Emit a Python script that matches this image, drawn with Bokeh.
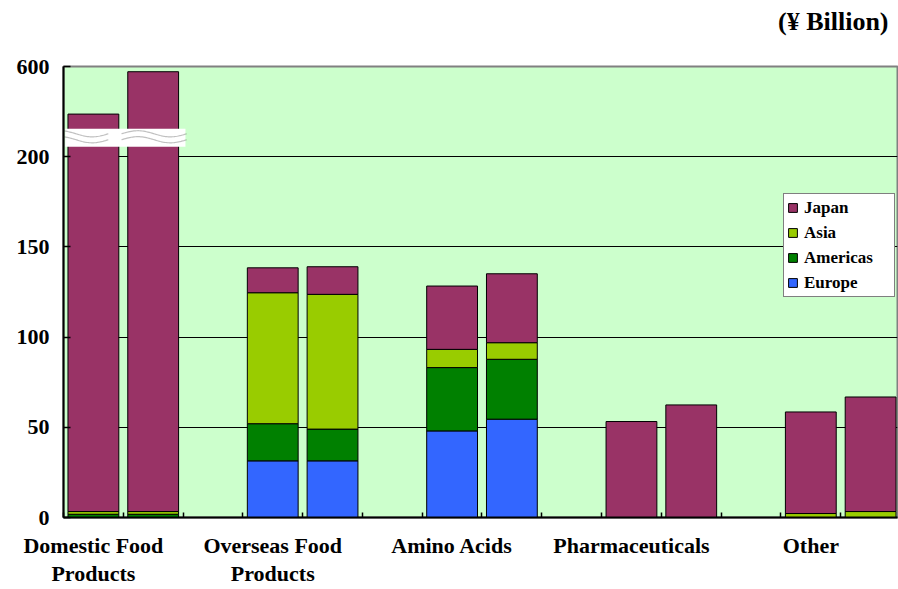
import numpy as np
from bokeh.plotting import figure
from bokeh.models import (Range1d, FixedTicker, LinearAxis, Legend, LegendItem,
                          PolyAnnotation, BoxAnnotation, Title, ColumnDataSource)
from bokeh.embed import file_html
from bokeh.resources import INLINE

# Segment sales by region, two consecutive years per segment (¥ billion)
categories = ["Domestic Food\nProducts", "Overseas Food\nProducts", "Amino Acids",
              "Pharmaceuticals", "Other"]
europe   = [0.0, 0.0, 31.4, 31.4, 48.0, 54.5, 0.0, 0.0, 0.0, 0.0]
americas = [1.8, 1.8, 20.6, 17.6, 35.1, 33.2, 0.0, 0.0, 0.0, 0.0]
asia     = [1.5, 1.5, 72.6, 74.7, 10.1, 9.2, 0.0, 0.0, 2.2, 3.3]
japan    = [385.7, 573.5, 13.8, 15.3, 35.1, 38.2, 53.2, 62.4, 56.3, 63.5]
y_ticks  = [0, 50, 100, 150, 200, 600]

series = [("Europe", europe, "#3366FF"),
          ("Americas", americas, "#008000"),
          ("Asia", asia, "#99CC00"),
          ("Japan", japan, "#993366")]

# broken value axis: linear up to 200, compressed above
BREAK = 200.0
COMPRESS = 0.125


def to_axis(v):
    a = np.asarray(v, dtype=float)
    return np.where(a <= BREAK, a, BREAK + (a - BREAK) * COMPRESS)


FONT = "Liberation Serif"
n_groups = len(categories)
# each group occupies three slots: two bars and an empty slot
slot_x = [3 * (i // 2) + (i % 2) + 0.5 for i in range(2 * n_groups)]

p = figure(width=898, height=589, output_backend="svg", toolbar_location=None,
           x_range=Range1d(0, 13.95), y_range=Range1d(0, float(to_axis(600))),
           min_border_left=63, min_border_right=1, min_border_top=66,
           min_border_bottom=72)
p.background_fill_color = "#CCFFCC"
p.border_fill_color = "white"
p.outline_line_color = "#808080"
p.outline_line_width = 2
p.xgrid.visible = False
p.ygrid.ticker = FixedTicker(ticks=[50, 100, 150, 200])
p.ygrid.grid_line_color = "black"
p.ygrid.grid_line_width = 1

renderers = {}
bottom = np.zeros(len(slot_x))
for name, vals, color in series:
    vals = np.asarray(vals, dtype=float)
    top = bottom + vals
    keep = vals > 0
    src = ColumnDataSource(dict(
        x=np.asarray(slot_x)[keep],
        bottom=to_axis(bottom[keep]),
        top=to_axis(top[keep]),
    ))
    renderers[name] = p.vbar(x="x", width=0.85, bottom="bottom", top="top",
                             source=src, fill_color=color, line_color="black",
                             line_width=1)
    bottom = top

# y axis
yt = [float(t) for t in to_axis(y_ticks)]
p.yaxis.ticker = FixedTicker(ticks=yt)
p.yaxis.major_label_overrides = {yt[i]: str(y_ticks[i]) for i in range(len(yt))}
p.yaxis.axis_line_color = "black"
p.yaxis.axis_line_width = 2
p.yaxis.major_tick_in = 7
p.yaxis.major_tick_out = 0
p.yaxis.minor_tick_line_color = None
p.yaxis.major_tick_line_width = 1.5
p.yaxis.major_label_standoff = 14
p.yaxis.major_label_text_font = FONT
p.yaxis.major_label_text_font_style = "bold"
p.yaxis.major_label_text_font_size = "22px"
p.yaxis.major_label_text_color = "black"

# x axis: category names under the first bar of each group,
# minor ticks mark the slot boundaries
label_pos = [3 * g + 0.5 for g in range(n_groups)]
p.xaxis.ticker = FixedTicker(ticks=label_pos, minor_ticks=list(range(0, 14)))
p.xaxis.major_label_overrides = {label_pos[g]: categories[g] for g in range(n_groups)}
p.xaxis.axis_line_color = "black"
p.xaxis.axis_line_width = 2
p.xaxis.major_tick_line_color = None
p.xaxis.major_tick_in = 0
p.xaxis.major_tick_out = 0
p.xaxis.minor_tick_in = 5
p.xaxis.minor_tick_out = 0
p.xaxis.minor_tick_line_color = "black"
p.xaxis.minor_tick_line_width = 1.5
p.xaxis.major_label_standoff = 15
p.xaxis.major_label_text_line_height = 1.15
p.xaxis.major_label_text_font = FONT
p.xaxis.major_label_text_font_style = "bold"
p.xaxis.major_label_text_font_size = "22px"
p.xaxis.major_label_text_color = "black"

# axis-break marker across the first group
p.add_layout(BoxAnnotation(left=0.03, right=2.04, bottom=205.5, top=215.5,
                           fill_color="white", fill_alpha=1.0, line_color=None))
t = np.linspace(0.0, 1.0, 48)
for x0, x1 in [(-0.33, 0.75), (0.97, 2.06)]:
    for c in (212.7, 209.4):
        wx = x0 + (x1 - x0) * t
        wy = c + 1.7 * np.sin(2 * np.pi * t)
        p.add_layout(PolyAnnotation(xs=list(wx) + list(wx[::-1]),
                                    ys=list(wy) + list(wy[::-1]),
                                    fill_alpha=0.0, line_color="#303030",
                                    line_width=1.2))

legend = Legend(
    items=[LegendItem(label=name, renderers=[renderers[name]])
           for name in ["Japan", "Asia", "Americas", "Europe"]],
    location=(720, 220), orientation="vertical",
    border_line_color="black", border_line_width=1.5,
    background_fill_color="white", background_fill_alpha=1.0,
    label_text_font=FONT, label_text_font_style="bold",
    label_text_font_size="17px", label_text_color="black",
    glyph_width=11, glyph_height=11, label_height=21, label_width=87,
    spacing=4, padding=3, margin=0, label_standoff=6,
)
p.add_layout(legend, "center")

# blank band between the frame and the unit note
p.add_layout(Title(text=" ", standoff=0, text_font_size="24px"), "above")
p.add_layout(Title(text="(¥ Billion)", align="right", offset=9,
                   vertical_align="top", standoff=0,
                   text_font=FONT, text_font_style="bold",
                   text_font_size="26px", text_color="black"), "above")

open("out.html", "w").write(file_html(p, INLINE))
